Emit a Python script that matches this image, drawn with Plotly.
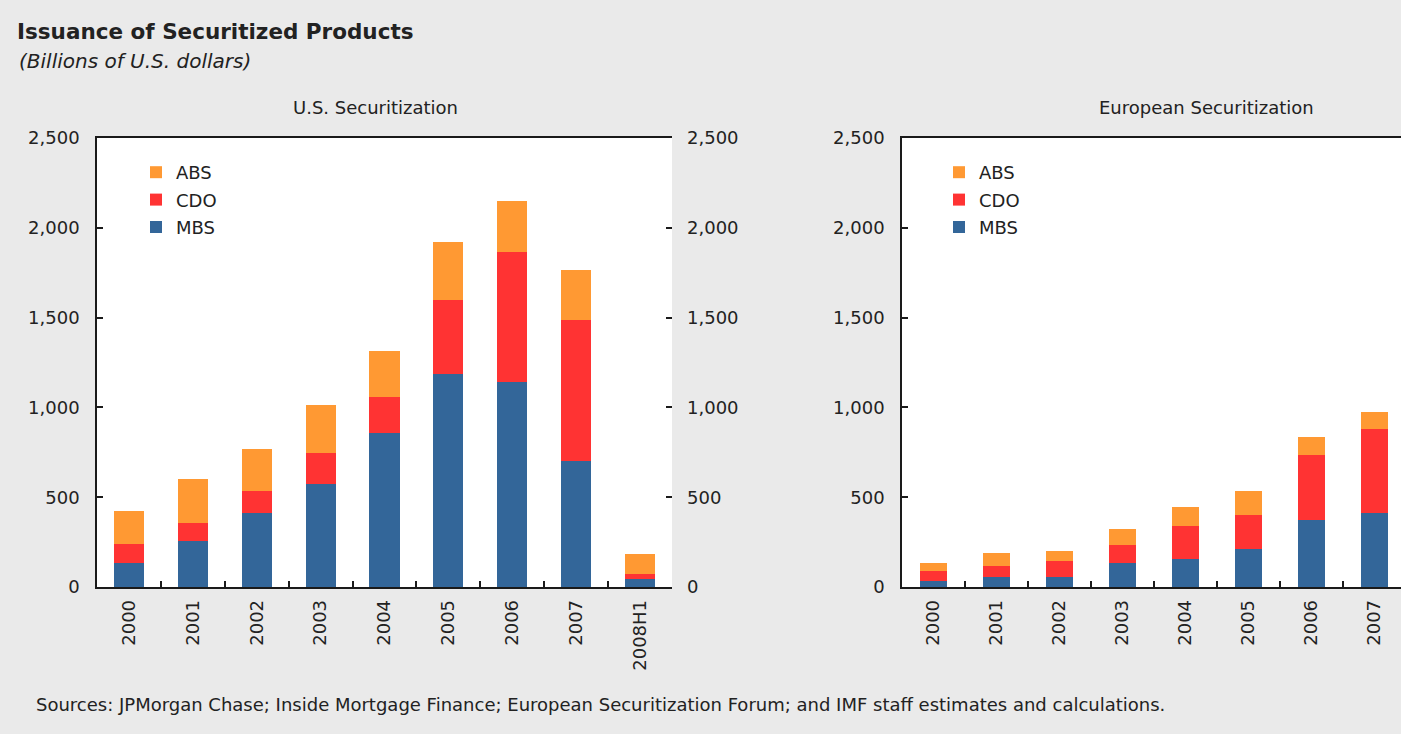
import plotly.graph_objects as go

# ---------------- data ----------------
us_years = ["2000", "2001", "2002", "2003", "2004", "2005", "2006", "2007", "2008H1"]
us_mbs = [135, 257, 414, 573, 859, 1184, 1143, 703, 43]
us_cdo = [103, 101, 122, 175, 201, 414, 724, 784, 28]
us_abs = [187, 245, 232, 265, 256, 321, 284, 278, 111]

eu_years = ["2000", "2001", "2002", "2003", "2004", "2005", "2006", "2007"]
eu_mbs = [31, 56, 56, 133, 157, 213, 374, 411]
eu_cdo = [58, 59, 90, 102, 180, 189, 363, 469]
eu_abs = [46, 76, 56, 89, 107, 135, 100, 92]

y_ticks = [0, 500, 1000, 1500, 2000, 2500]
series_names = ["MBS", "CDO", "ABS"]
legend_rank = {"ABS": 1, "CDO": 2, "MBS": 3}

# ---------------- style ----------------
W, H = 1401, 734
FONT = "DejaVu Sans"
TXT = "#222222"
BG = "#EAEAEA"
COLORS = {"MBS": "#336699", "CDO": "#FF3333", "ABS": "#FF9933"}
LINE = "#1a1a1a"


def px_x(p):
    return p / W


def px_y(p):
    return 1 - p / H


fig = go.Figure()

for name, vals in zip(series_names, [us_mbs, us_cdo, us_abs]):
    fig.add_trace(go.Bar(
        x=us_years, y=vals, name=name, marker_color=COLORS[name],
        marker_line_width=0, width=0.47, xaxis="x", yaxis="y",
        legend="legend", legendrank=legend_rank[name], legendgroup="us" + name,
    ))

# invisible companion trace so that the right-hand duplicate axis is drawn
fig.add_trace(go.Scatter(
    x=us_years, y=us_mbs, xaxis="x", yaxis="y2", mode="markers",
    marker=dict(opacity=0), showlegend=False, hoverinfo="skip",
))

for name, vals in zip(series_names, [eu_mbs, eu_cdo, eu_abs]):
    fig.add_trace(go.Bar(
        x=eu_years, y=vals, name=name, marker_color=COLORS[name],
        marker_line_width=0, width=0.43, xaxis="x2", yaxis="y3",
        legend="legend2", legendrank=legend_rank[name], legendgroup="eu" + name,
    ))

tickfont = dict(family=FONT, size=18, color=TXT)

xcommon = dict(
    type="category", showline=True, linecolor=LINE, linewidth=1.5, mirror=True,
    ticks="inside", ticklen=6, tickwidth=1.5, tickcolor=LINE, tickson="boundaries",
    tickangle=-90, tickfont=tickfont, showgrid=False, zeroline=False,
    ticklabelstandoff=4, automargin=False,
)
ycommon = dict(
    range=[0, 2500], tickvals=y_ticks, tickformat=",d", showgrid=False,
    zeroline=False, ticks="inside", ticklen=6, tickwidth=1.5, tickcolor=LINE,
    tickfont=tickfont, automargin=False,
)

y_dom = [px_y(587), px_y(138)]

legend_common = dict(
    xanchor="left", yanchor="top", bgcolor="rgba(0,0,0,0)",
    traceorder="grouped", itemwidth=30, tracegroupgap=1,
    font=dict(family=FONT, size=18, color=TXT),
)

fig.update_layout(
    width=W, height=H, autosize=False,
    paper_bgcolor=BG, plot_bgcolor="white",
    margin=dict(l=0, r=0, t=0, b=0, pad=0, autoexpand=False),
    barmode="stack",
    font=dict(family=FONT, color=TXT),
    xaxis=dict(domain=[px_x(97), px_x(672)], anchor="y",
               range=[-0.5, 8.5], **xcommon),
    yaxis=dict(domain=y_dom, anchor="x", showline=True, linecolor=LINE,
               linewidth=1.5, ticklabelstandoff=12, **ycommon),
    yaxis2=dict(domain=y_dom, anchor="x", overlaying="y", side="right",
                showline=False, ticklabelstandoff=14, **ycommon),
    xaxis2=dict(domain=[px_x(902), 1.0], anchor="y3",
                range=[-0.5, 7.42], **xcommon),
    yaxis3=dict(domain=y_dom, anchor="x2", showline=True, linecolor=LINE,
                linewidth=1.5, ticklabelstandoff=12, **ycommon),
    legend=dict(x=px_x(136), y=px_y(154), **legend_common),
    legend2=dict(x=px_x(939), y=px_y(154), **legend_common),
)

annotations = [
    dict(text="<b>Issuance of Securitized Products</b>", x=px_x(15), y=px_y(32),
         xanchor="left", yanchor="middle", font=dict(family=FONT, size=21.5, color=TXT)),
    dict(text="<i>(Billions of U.S. dollars)</i>", x=px_x(17), y=px_y(61),
         xanchor="left", yanchor="middle", font=dict(family=FONT, size=20, color=TXT)),
    dict(text="U.S. Securitization", x=px_x(375), y=px_y(108),
         xanchor="center", yanchor="middle", font=dict(family=FONT, size=18, color=TXT)),
    dict(text="European Securitization", x=px_x(1206), y=px_y(108),
         xanchor="center", yanchor="middle", font=dict(family=FONT, size=18, color=TXT)),
    dict(text="Sources: JPMorgan Chase; Inside Mortgage Finance; European Securitization Forum; and IMF staff estimates and calculations.",
         x=px_x(34), y=px_y(704), xanchor="left", yanchor="middle",
         font=dict(family=FONT, size=18, color=TXT)),
]
for a in annotations:
    a.update(xref="paper", yref="paper", showarrow=False)
fig.update_layout(annotations=annotations)

fig.write_html(
    "out.html",
    config={"displayModeBar": False},
    post_script="document.body.style.margin='0';document.body.style.overflow='hidden';",
)
